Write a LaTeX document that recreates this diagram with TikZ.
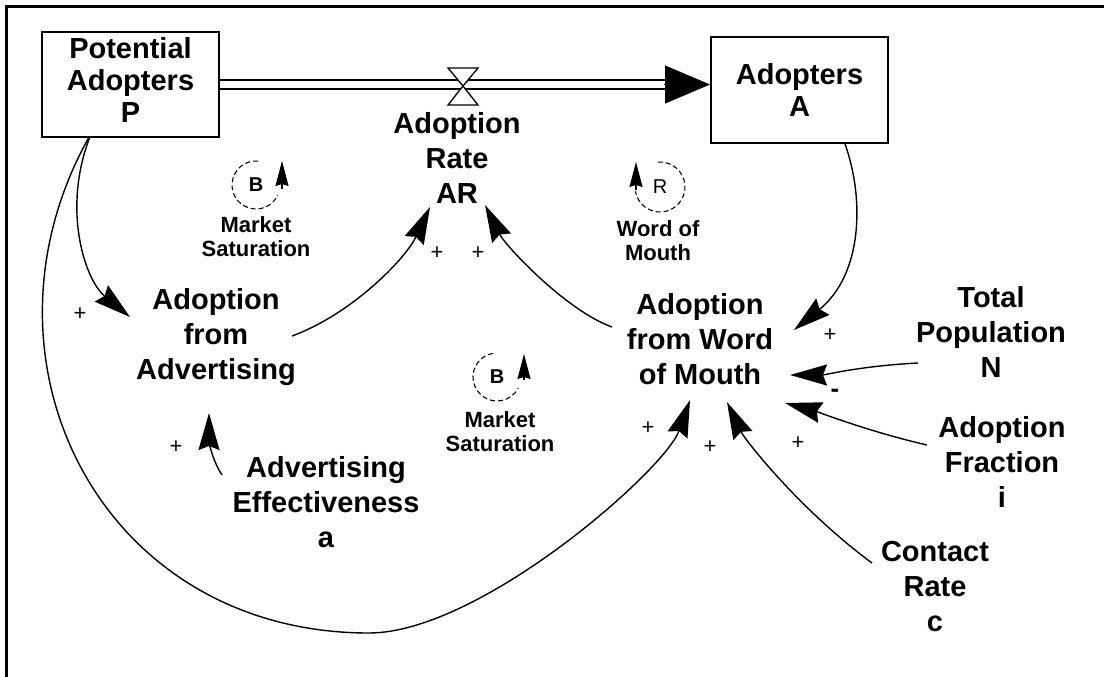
\documentclass[tikz,border=0pt]{standalone}
\usepackage{fontspec}
\setmainfont{Liberation Sans}
\usetikzlibrary{arrows.meta}
\begin{document}
\begin{tikzpicture}[x=1pt,y=-1pt,
  lbl/.style={font=\bfseries\fontsize{29}{35}\selectfont, align=center, inner sep=0pt},
  stock/.style={draw, line width=2pt, minimum width=177pt, minimum height=105pt, align=center, font=\bfseries\fontsize{29}{32}\selectfont, inner sep=0pt},
  loopname/.style={font=\bfseries\fontsize{22}{24}\selectfont, align=center, inner sep=0pt},
  loopletter/.style={font=\bfseries\fontsize{20}{20}\selectfont, inner sep=0pt},
  sign/.style={font=\fontsize{22}{22}\selectfont, inner sep=0pt},
  minus/.style={font=\bfseries\fontsize{26}{26}\selectfont, inner sep=0pt},
  link/.style={line width=1.4pt, -{Stealth[length=37pt,width=21pt,inset=4pt]}},
  loopcirc/.style={line width=1.1pt, dash pattern=on 5pt off 3pt},
  looptip/.style={line width=1.2pt, -{Stealth[length=25pt,width=13pt,inset=2pt]}},
  pipe/.style={line width=1.8pt},
]
\useasboundingbox (0,0) rectangle (1104,677);
% frame
\draw[line width=3pt] (5,6.5) -- (1104,6.5);
\draw[line width=3pt] (6.5,5) -- (6.5,677);

% stocks
\node[stock, text depth=10pt] (P) at (130.5,84.5) {Potential\\Adopters\\P};
\node[stock, minimum height=106pt] (A) at (799.5,90) {Adopters\\A};

% flow pipe
\coordinate (pend) at (P.east -| A.west);
\draw[pipe] ([shift={(0,-4.5)}]P.east) -- ([shift={(-44,-4.5)}]pend);
\draw[pipe] ([shift={(0,4.5)}]P.east) -- ([shift={(-44,4.5)}]pend);
\draw[line width=1pt, -{Triangle[length=45pt,width=38pt]}] ([shift={(-46,0)}]pend) -- (pend);
\coordinate (valve) at (463,86);
\filldraw[fill=white, line width=1.3pt] ([shift={(-15,-18)}]valve) -- ([shift={(15,-18)}]valve) -- (valve) -- cycle;
\filldraw[fill=white, line width=1.3pt] ([shift={(-15,19)}]valve) -- ([shift={(15,19)}]valve) -- (valve) -- cycle;

% variables
\node[lbl] (AR) at (457,157.5) {Adoption\\Rate\\AR};
\node[lbl] (AFA) at (216,337) {Adoption\\from\\Advertising};
\node[lbl] (AFW) at (700,339.5) {Adoption\\from Word\\of Mouth};
\node[lbl] (AE) at (326,502.5) {Advertising\\Effectiveness\\a};
\node[lbl] (TP) at (991,331.5) {Total\\Population\\N};
\node[lbl] (AF) at (1002,461.5) {Adoption\\Fraction\\i};
\node[lbl] (CR) at (935,586.5) {Contact\\Rate\\c};

% loop labels
\node[loopname] (ms1) at (256,237) {Market\\Saturation};
\node[loopname] (wm) at (658,241) {Word of\\Mouth};
\node[loopname] (ms2) at (500,432) {Market\\Saturation};

\node[loopletter] (b1) at (256,185) {B};
\draw[loopcirc] ([shift={(85:24pt)}]b1.center) arc[start angle=85, end angle=335, radius=24pt];
\draw[looptip] ([shift={(26,4)}]b1.center) -- ([shift={(26,-24)}]b1.center);

\node[loopletter, font=\fontsize{20}{20}\selectfont] (r) at (660,187) {R};
\draw[loopcirc] ([shift={(95:25pt)}]r.center) arc[start angle=95, end angle=-170, radius=25pt];
\draw[looptip] ([shift={(-24,3)}]r.center) -- ([shift={(-24,-25)}]r.center);

\node[loopletter] (b2) at (497,377) {B};
\draw[loopcirc] ([shift={(100:24pt)}]b2.center) arc[start angle=100, end angle=332, radius=24pt];
\draw[looptip] ([shift={(27,3)}]b2.center) -- ([shift={(27,-23)}]b2.center);

% causal links
\coordinate (bottom) at (369,633);
\draw[link] ([shift={(-41,0)}]P.south) .. controls (62,210) and (85,280) .. ([shift={(-86,-20)}]AFA.center);
\draw[link] ([shift={(-42,0)}]P.south) .. controls (-35,360) and (100,633) .. (bottom) .. controls (480,633) and (665,470) .. ([shift={(-10,60.5)}]AFW.center);
\draw[link] ([shift={(76,-1)}]AFA.center) .. controls (350,315) and (405,260) .. ([shift={(-27,49.5)}]AR.center);
\draw[link] ([shift={(-88,-12.5)}]AFW.center) .. controls (565,310) and (505,245) .. ([shift={(28,47.5)}]AR.center);
\draw[link] ([shift={(45.5,0)}]A.south) .. controls (865,200) and (862,275) .. ([shift={(94,-9.5)}]AFW.center);
\draw[link] ([shift={(-73,31.5)}]TP.center) .. controls (860,366) and (825,375) .. ([shift={(90,35.5)}]AFW.center);
\draw[link] ([shift={(-75,-16.5)}]AF.center) .. controls (870,432) and (815,411) .. ([shift={(85,63.5)}]AFW.center);
\draw[link] ([shift={(-63,-23.5)}]CR.center) .. controls (800,510) and (745,440) .. ([shift={(27,62.5)}]AFW.center);
\draw[link] ([shift={(-104,-27.5)}]AE.center) .. controls (212,460) and (209,440) .. ([shift={(-7,76)}]AFA.center);

% polarities
\node[sign] (s1) at (80,314) {+};
\node[sign] (s2) at (437,253) {+};
\node[sign] (s3) at (478,253) {+};
\node[sign] (s4) at (830,335) {+};
\node[minus] (s5) at (835,393) {-};
\node[sign] (s6) at (798,443) {+};
\node[sign] (s7) at (648,428) {+};
\node[sign] (s8) at (710,447) {+};
\node[sign] (s9) at (176,447) {+};
\end{tikzpicture}
\end{document}
